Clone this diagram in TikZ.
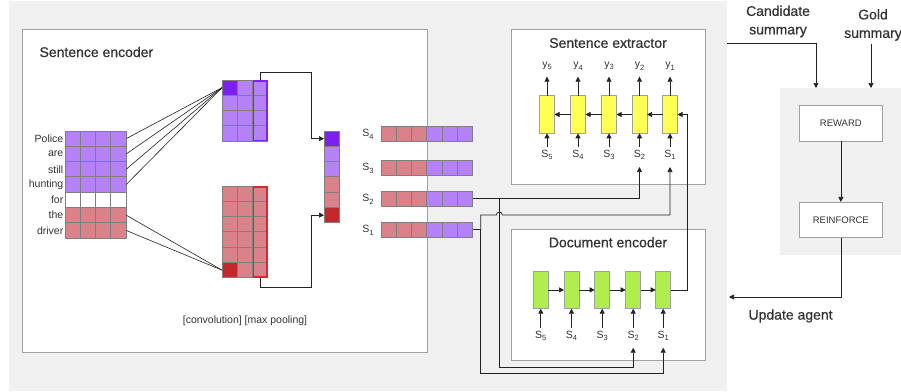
\documentclass[tikz,border=0pt]{standalone}
\usepackage{fontspec}
\setmainfont{Liberation Sans}
\newfontfamily\medfont[FakeBold=0.6]{Liberation Sans}
\usetikzlibrary{arrows.meta,calc}
\definecolor{bggray}{HTML}{F0F0F0}
\definecolor{lpur}{HTML}{B481F7}
\definecolor{dpur}{HTML}{7A20EF}
\definecolor{lred}{HTML}{DA828A}
\definecolor{dred}{HTML}{C3292C}
\definecolor{yel}{HTML}{FFFF55}
\definecolor{grn}{HTML}{AFEE4C}
\definecolor{cellline}{HTML}{7F7F7F}
\definecolor{boxline}{HTML}{A0A0A0}
\definecolor{txt}{HTML}{333333}
\definecolor{outpur}{HTML}{8020FF}
\definecolor{outred}{HTML}{D42A2A}
\definecolor{lncol}{HTML}{222222}
\newcommand\subs[2]{#1\raisebox{-0.45ex}{\fontsize{7.5}{8}\selectfont #2}}
\tikzset{
  panel/.style={draw=boxline, fill=white, line width=0.8pt, inner sep=0pt, outer sep=0pt},
  titletext/.style={font=\medfont\fontsize{14}{18.5}\selectfont, text=txt},
  bigtext/.style={font=\medfont\fontsize{14}{18.5}\selectfont, text=txt, align=center},
  cell/.style={draw=cellline, line width=0.9pt, minimum width=15.3pt, minimum height=15.3pt, inner sep=0pt, outer sep=0pt},
  svcell/.style={draw=cellline, line width=0.9pt, minimum width=15.3pt, minimum height=15pt, inner sep=0pt, outer sep=0pt},
  rnn/.style={draw=boxline, line width=0.8pt, minimum width=15pt, minimum height=37.6pt, inner sep=0pt, outer sep=0pt},
  smallbox/.style={draw=boxline, fill=white, line width=0.8pt, minimum width=83.7pt, minimum height=35.3pt, inner sep=0pt, font=\fontsize{9.5}{11}\selectfont, text=txt},
  lbl/.style={inner sep=0pt, text=txt},
  conn/.style={draw=lncol, line width=0.6pt},
  arr/.style={draw=lncol, line width=0.7pt, -{Triangle[length=5pt,width=5pt]}},
}
\begin{document}
\begin{tikzpicture}[x=1pt,y=-1pt, font=\fontsize{10.5}{12}\selectfont]
\useasboundingbox (0,0) rectangle (901,391);
\fill[white] (0,0) rectangle (901,391);
\node[fill=bggray, minimum width=718pt, minimum height=390pt, anchor=north west, inner sep=0pt] (bg) at (9,1) {};

% ---------------- Sentence encoder ----------------
\node[panel, minimum width=405pt, minimum height=323.5pt, anchor=north west] (se) at (22,29) {};
\node[titletext, anchor=west] (se-t) at (36,52) {Sentence encoder};

% input matrix
\foreach \r/\col in {1/lpur,2/lpur,3/lpur,4/lpur,5/white,6/lred,7/lred}
  \foreach \c in {1,...,4}
    \node[cell, fill=\col] (in-\r-\c) at ({65+15.3*(\c-0.5)},{131+15.3*(\r-0.5)}) {};
\foreach \r/\w in {1/Police,2/are,3/still,4/hunting,5/for,6/the,7/driver}
  \node[lbl, anchor=east] (w-\r) at (63.5,{131+15.3*(\r-0.5)}) {\w};

% conv top
\foreach \r in {1,...,4}
  \foreach \c in {1,...,3}
    \node[cell, fill=lpur] (ct-\r-\c) at ({222+15.3*(\c-0.5)},{80+15.3*(\r-0.5)}) {};
\node[cell, fill=dpur] (ct-1-1) at ({222+15.3*0.5},{80+15.3*0.5}) {};
\draw[outpur, line width=1.6pt] ($(ct-1-3.north west)+(0.8,0.8)$) rectangle ($(ct-4-3.south east)+(-0.8,-0.8)$);

% conv bottom
\foreach \r in {1,...,6}
  \foreach \c in {1,...,3}
    \node[cell, fill=lred] (cb-\r-\c) at ({222+15.3*(\c-0.5)},{186+15.3*(\r-0.5)}) {};
\node[cell, fill=dred] (cb-6-1) at ({222+15.3*0.5},{186+15.3*5.5}) {};
\draw[outred, line width=1.6pt] ($(cb-1-3.north west)+(0.8,0.8)$) rectangle ($(cb-6-3.south east)+(-0.8,-0.8)$);

% pooled vector
\foreach \r/\col in {1/dpur,2/lpur,3/lpur,4/lred,5/lred,6/dred}
  \node[cell, fill=\col] (pl-\r) at (331.65,{131+15.3*(\r-0.5)}) {};

% fan lines
\foreach \r in {1,...,4}
  \draw[conn] (in-\r-4.east) -- (ct-1-1.west);
\foreach \r in {6,7}
  \draw[conn] (in-\r-4.east) -- (cb-6-1.west);

% pooling arrows
\draw[arr] (ct-1-3.north) -- ($(ct-1-3.north)+(0,-8)$) -| ($(pl-1.west)+(-13,0)$) -- (pl-1.west);
\draw[arr] (cb-6-3.south) -- ($(cb-6-3.south)+(0,10)$) -| ($(pl-6.west)+(-13,0)$) -- (pl-6.west);

\node[lbl, text=txt] (cap) at (245,321) {[convolution] [max pooling]};

% sentence vectors
\foreach \k/\y in {4/133.5,3/167.5,2/198.5,1/229.5}{
  \foreach \c in {1,...,6}{
    \ifnum\c<4 \def\cc{lred}\else\def\cc{lpur}\fi
    \node[svcell, fill=\cc] (sv\k-\c) at ({381+15.3*(\c-0.5)},\y) {};
  }
  \node[lbl] (svl-\k) at (368,\y+1) {\subs{S}{\k}};
}

% ---------------- Sentence extractor ----------------
\node[panel, minimum width=194pt, minimum height=155pt, anchor=north west] (sx) at (511.7,29) {};
\node[titletext] (sx-t) at (608,43) {Sentence extractor};
\foreach \k/\x in {5/547,4/578,3/609,2/639.5,1/670}{
  \node[rnn, fill=yel] (ye-\k) at (\x,114.5) {};
  \node[lbl] (yl-\k) at (\x,66) {\subs{y}{\k}};
  \node[lbl] (ysl-\k) at (\x,155) {\subs{S}{\k}};
  \draw[arr] (ye-\k.north) -- ++(0,-19);
  \draw[arr] ($(ye-\k.south)+(0,14)$) -- (ye-\k.south);
}
\foreach \a/\b in {1/2,2/3,3/4,4/5}
  \draw[arr] (ye-\a.west) -- (ye-\b.east);

% ---------------- Document encoder ----------------
\node[panel, minimum width=194pt, minimum height=130.7pt, anchor=north west] (de) at (511.7,229.3) {};
\node[titletext] (de-t) at (608,242.3) {Document encoder};
\foreach \k/\x in {5/540.8,4/571.5,3/602.2,2/633.2,1/663.2}{
  \node[rnn, fill=grn] (gr-\k) at (\x,289.9) {};
  \node[lbl] (gsl-\k) at (\x,336) {\subs{S}{\k}};
  \draw[arr] ($(gr-\k.south)+(0,19)$) -- (gr-\k.south);
}
\foreach \a/\b in {5/4,4/3,3/2,2/1}
  \draw[arr] (gr-\a.east) -- (gr-\b.west);

% connections
\draw[arr] (gr-1.east) -| ($(ye-1.east)+(9.5,0)$) -- (ye-1.east);
\coordinate (ex2) at ($(ysl-2)+(0,12)$);
\coordinate (ex1) at ($(ysl-1)+(0,12)$);
\coordinate (dx2) at ($(gsl-2)+(0,11.7)$);
\coordinate (dx1) at ($(gsl-1)+(0,11.7)$);
\coordinate (br2) at ($(sv2-6.east)+(26.5,0)$);
\coordinate (br1) at ($(sv1-6.east)+(8,0)$);
\draw[arr] (sv2-6.east) -| (ex2);
\draw[arr] (br2) -- ($(br2)+(0,168.8)$) -| (dx2);
\draw[conn, line width=0.7pt] (sv1-6.east) -- (br1);
\draw[arr] (br1) -- ($(br1)+(0,-14.5)$) -- ($(br2)+(-3,16.5)$) arc[start angle=180, end angle=360, radius=3] -| (ex1);
\draw[arr] (br1) -- ($(br1)+(0,143.8)$) -| (dx1);

% ---------------- Right panel ----------------
\node[fill=bggray, minimum width=121pt, minimum height=167pt, anchor=north west, inner sep=0pt] (rp) at (780,88) {};
\node[smallbox] (rew) at (840.85,123.35) {REWARD};
\node[smallbox] (rei) at (840.85,220) {REINFORCE};
\draw[arr] (rew.south) -- (rei.north);
\node[bigtext] (cand) at (778,21.5) {Candidate\\summary};
\node[bigtext] (gold) at (873,25) {Gold\\summary};
\coordinate (cs) at (727,43);
\draw[arr] (cs) -| ($(rp.north west)+(36,0)$);
\draw[arr] ($(gold.south)+(-2,0)$) -- ($(rp.north west)+(91,0)$);
\coordinate (ua) at (729,297);
\draw[arr] (rei.south) |- (ua);
\node[bigtext, anchor=west] (upd) at (745,316) {Update agent};
\end{tikzpicture}
\end{document}
